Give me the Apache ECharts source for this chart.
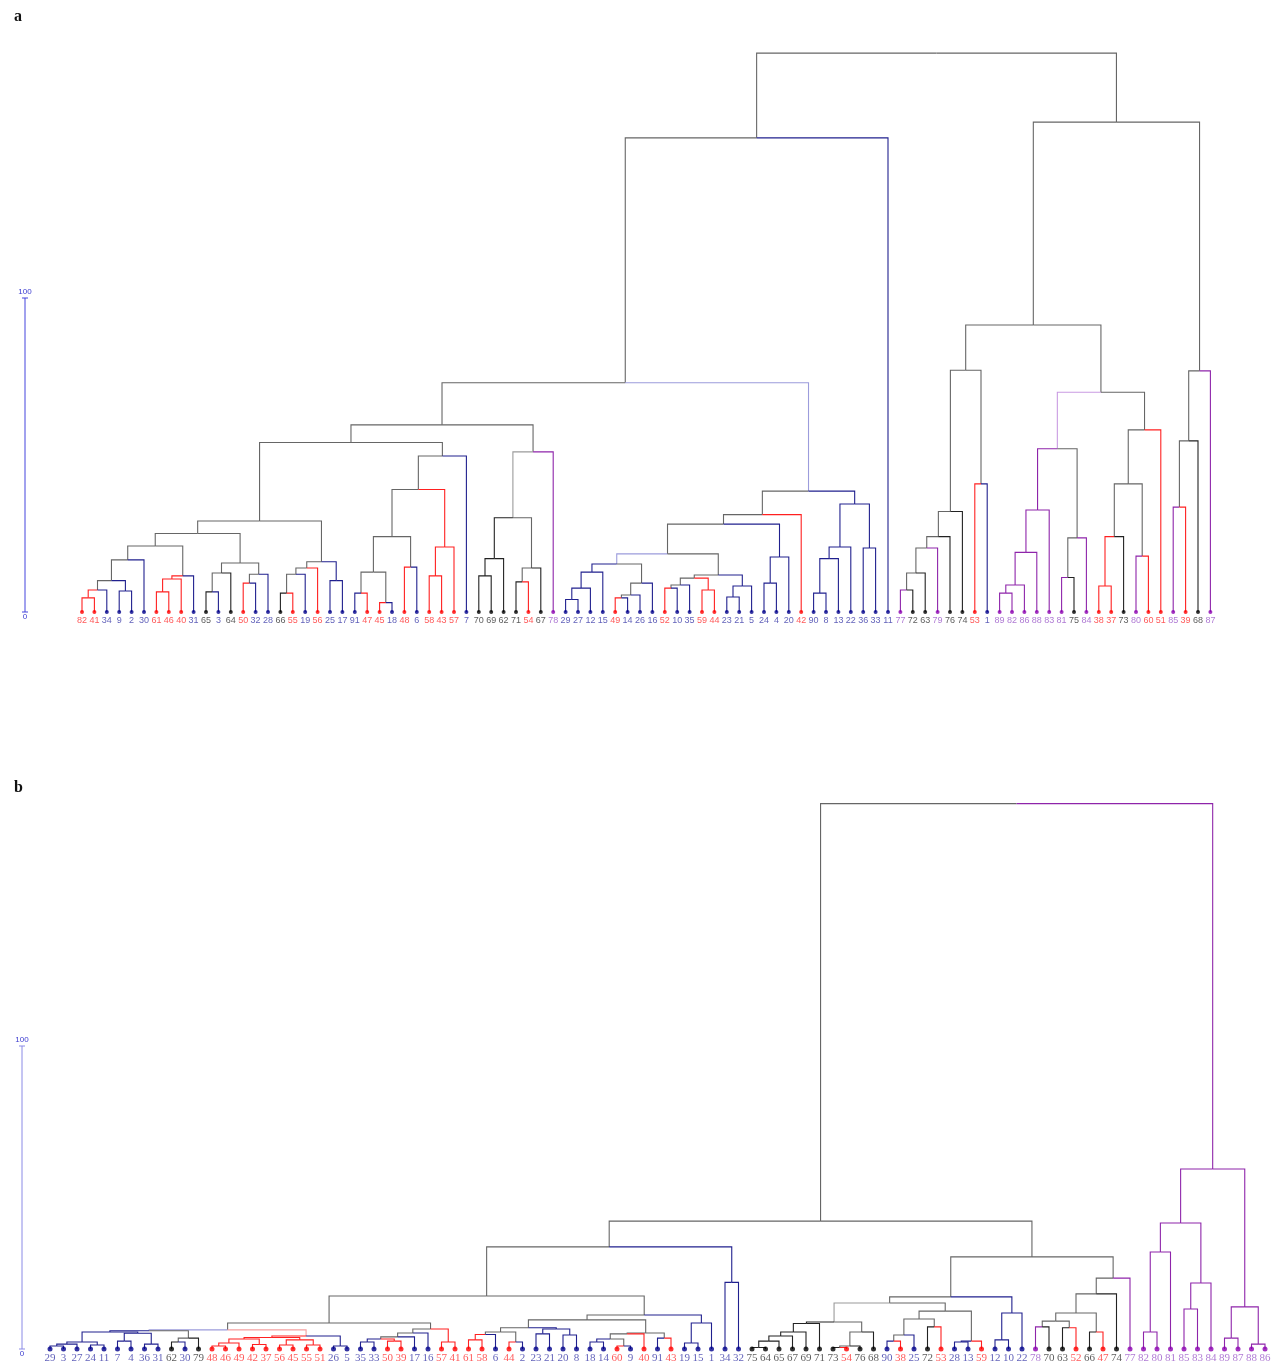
<!DOCTYPE html>
<html>
<head>
<meta charset="utf-8">
<script src="https://cdn.jsdelivr.net/npm/echarts@6/dist/echarts.min.js"></script>
<style>
html,body{margin:0;padding:0;background:#fff;}
#chart{width:1284px;height:1365px;}
</style>
</head>
<body>
<div id="chart"></div>
<script>
// ---------- DATA: panel a ----------
const labelsA = ['82','41','34','9','2','30','61','46','40','31','65','3','64','50','32','28','66','55','19','56','25','17','91','47','45','18','48','6','58','43','57','7','70','69','62','71','54','67','78','29','27','12','15','49','14','26','16','52','10','35','59','44','23','21','5','24','4','20','42','90','8','13','22','36','33','11','77','72','63','79','76','74','53','1','89','82','86','88','83','81','75','84','38','37','73','80','60','51','85','39','68','87'];
const groupsA = ['r','r','b','b','b','b','r','r','r','b','k','b','k','r','b','b','k','r','b','r','b','b','b','r','r','b','r','b','r','r','r','b','k','k','k','k','r','k','p','b','b','b','b','r','b','b','b','r','b','b','r','r','b','b','b','b','b','b','r','b','b','b','b','b','b','b','p','k','k','p','k','k','r','b','p','p','p','p','p','p','k','p','r','r','k','p','r','r','p','r','k','p'];
// merges: [first leaf position, last leaf position, height]
const mergesA = [
 [0,1,4.5],[0,2,7],[3,4,6.7],[0,4,10],[0,5,16.6],[6,7,6.4],[6,8,10.5],[6,9,11.5],[0,9,21],
 [10,11,6.4],[10,12,12.4],[13,14,9.2],[13,15,12],[10,15,15.6],[0,15,25],
 [16,17,6],[16,18,12],[16,19,14],[20,21,10],[16,21,16],[0,21,29],
 [22,23,6],[24,25,3],[22,25,12.7],[26,27,14.3],[22,27,24],[28,29,11.5],[28,30,20.7],[22,30,39],[22,31,49.7],[0,31,54],
 [32,33,11.5],[32,34,17],[35,36,9.6],[35,37,14],[32,37,30],[32,38,51],[0,38,59.6],
 [39,40,4],[39,41,7.6],[39,42,12.7],[43,44,4.5],[43,45,5.4],[43,46,9.2],[39,46,15.3],
 [47,48,7.6],[47,49,8.6],[50,51,7],[47,51,10.8],[52,53,4.8],[52,54,8.3],[47,54,11.8],[39,54,18.5],
 [55,56,9.2],[55,57,17.5],[39,57,28],[39,58,31],
 [59,60,6],[59,61,17],[59,62,20.7],[63,64,20.4],[59,64,34.4],[39,64,38.5],[0,64,73],[0,65,151],
 [66,67,7],[66,68,12.4],[66,69,20.4],[66,70,24],[66,71,32],[72,73,40.8],[66,73,77],
 [74,75,6],[74,76,8.6],[74,77,19],[74,78,32.5],[79,80,11],[79,81,23.6],[74,81,52],
 [82,83,8.3],[82,84,24],[85,86,17.8],[82,86,40.8],[82,87,58],[74,87,70],[66,87,91.4],
 [88,89,33.4],[88,90,54.5],[88,91,76.8],[66,91,156],[0,91,178]
];

// ---------- DATA: panel b ----------
const labelsB = ['29','3','27','24','11','7','4','36','31','62','30','79','48','46','49','42','37','56','45','55','51','26','5','35','33','50','39','17','16','57','41','61','58','6','44','2','23','21','20','8','18','14','60','9','40','91','43','19','15','1','34','32','75','64','65','67','69','71','73','54','76','68','90','38','25','72','53','28','13','59','12','10','22','78','70','63','52','66','47','74','77','82','80','81','85','83','84','89','87','88','86'];
const groupsB = ['b','b','b','b','b','b','b','b','b','k','b','k','r','r','r','r','r','r','r','r','r','b','b','b','b','r','r','b','b','r','r','r','r','b','r','b','b','b','b','b','b','b','r','b','r','b','r','b','b','b','b','b','k','k','k','k','k','k','k','r','k','k','b','r','b','k','r','b','b','r','b','b','b','p','k','k','r','k','r','k','p','p','p','p','p','p','p','p','p','p','p'];
const mergesB = [
 [0,1,1],[0,2,1.6],[3,4,1.3],[0,4,2.3],[5,6,2.6],[7,8,1.6],[5,8,5.2],[0,8,5.6],[9,10,2.3],[9,11,3.6],[0,11,6.0],
 [12,13,1],[12,14,2],[15,16,1.5],[12,16,3.3],[17,18,1.3],[19,20,1.3],[17,20,3],[12,20,3.8],[21,22,1],[12,22,4.3],[0,22,6.3],
 [23,24,2.3],[25,26,2.6],[23,26,3.3],[23,27,4],[23,28,5.3],[29,30,2.3],[23,30,6.6],[0,30,8.6],
 [31,32,3],[31,33,4.8],[34,35,2.3],[31,35,5.6],[36,37,5],[38,39,4.6],[36,39,6.6],[31,39,7],
 [40,41,2.3],[42,43,1],[40,43,3.3],[40,44,5],[45,46,3.6],[40,46,5.3],[31,46,9.6],
 [47,48,2],[47,49,8.6],[31,49,11.2],[0,49,17.5],[50,51,22],[0,51,33.7],
 [52,53,0.5],[52,54,2.6],[52,55,4.3],[52,56,5.6],[52,57,8.4],[58,59,0.5],[58,60,1],[58,61,5.6],[52,61,8.9],
 [62,63,2.6],[62,64,4.6],[65,66,7.3],[62,66,9.9],[67,68,2.3],[67,69,2.6],[62,69,12.5],[52,69,15.2],
 [70,71,3],[70,72,11.9],[52,72,17.2],
 [73,74,7.3],[75,76,7],[73,76,9.2],[77,78,5.6],[73,78,11.9],[73,79,18.2],[73,80,23.4],[52,80,30.4],[0,80,42.2],
 [81,82,5.6],[81,83,32],[84,85,13.2],[84,86,21.8],[81,86,41.6],[87,88,3.6],[89,90,1.6],[87,90,13.9],[81,90,59.4],[0,90,180]
];

const scaleTicks = [0, 100];
const panelNames = ['a', 'b'];

// ---------- styles ----------
const FULL  = {r:'#ff2020', b:'#20208e', k:'#222222', p:'#8e24aa'};
const LIGHT = {r:'#f5a0a0', b:'#9c9cdc', k:'#9a9a9a', p:'#c99be2'};
const MIXED = '#666666';
const DOT   = {r:'#ff0000', b:'#00008b', k:'#000000', p:'#8b00b0'};
const TXT   = {r:'#ff3030', b:'#3838a8', k:'#333333', p:'#9b59c9'};

function buildTree(n, merges, groups) {
  const map = new Map();
  for (let i = 0; i < n; i++) {
    const c = {}; c[groups[i]] = 1;
    map.set(i + '-' + i, {a:i, b:i, h:0, x:i, counts:c, size:1, leaf:true});
  }
  const sorted = merges.slice().sort((p, q) => (p[1]-p[0]) - (q[1]-q[0]));
  for (const [a, b, h] of sorted) {
    let left = null;
    for (let e = b - 1; e >= a; e--) { if (map.has(a + '-' + e)) { left = map.get(a + '-' + e); break; } }
    let right = left ? map.get((left.b + 1) + '-' + b) : null;
    if (!left || !right) { console.warn('bad merge', a, b); continue; }
    const counts = Object.assign({}, left.counts);
    for (const k in right.counts) counts[k] = (counts[k] || 0) + right.counts[k];
    map.set(a + '-' + b, {a, b, h, x:(left.x + right.x) / 2, left, right, counts, size:left.size + right.size});
  }
  return map.get('0-' + (n - 1));
}

function branchColor(node) {
  let best = null, bestN = 0;
  for (const k in node.counts) if (node.counts[k] > bestN) { bestN = node.counts[k]; best = k; }
  const f = bestN / node.size;
  if (f === 1) return FULL[best];
  if (f >= 0.8) return LIGHT[best];
  return MIXED;
}

function collectLines(root) {
  const out = [];
  (function walk(node) {
    if (node.leaf) return;
    for (const ch of [node.left, node.right]) {
      out.push({coords: [[ch.x, ch.h], [ch.x, node.h], [node.x, node.h]], lineStyle: {color: branchColor(ch)}});
      walk(ch);
    }
  })(root);
  return out;
}

const treeA = buildTree(labelsA.length, mergesA, groupsA);
const treeB = buildTree(labelsB.length, mergesB, groupsB);

// pixel layout of each panel
const PA = {x0:82, dx:12.4, y0:612, py:3.14, barX:25, font:'Liberation Sans', fs:9, barColor:'#4444dd'};
const PB = {x0:50, dx:13.5, y0:1349, py:3.03, barX:22, font:'Liberation Serif', fs:11, barColor:'#8a8ae6'};
const YMAX = 180;

function gridOf(P) { return {left:0, width:1284, top:P.y0 - P.py*YMAX, height:P.py*YMAX, containLabel:false}; }
function xAxisOf(P, idx) { return {gridIndex:idx, type:'value', min:-P.x0/P.dx, max:(1284-P.x0)/P.dx, show:false}; }
function yAxisOf(idx) { return {gridIndex:idx, type:'value', min:0, max:YMAX, show:false}; }

function panelSeries(P, idx, tree, labels, groups) {
  const sx = (P.barX - P.x0) / P.dx;
  return [
    {
      type:'lines', coordinateSystem:'cartesian2d', xAxisIndex:idx, yAxisIndex:idx,
      polyline:true, silent:true, z:2,
      lineStyle:{width:1.1, opacity:1},
      data: collectLines(tree)
    },
    {
      type:'scatter', xAxisIndex:idx, yAxisIndex:idx, z:3, silent:true,
      symbol:'circle', symbolSize: idx === 0 ? 4 : 5,
      data: labels.map((l, i) => ({
        value:[i, 0],
        itemStyle:{color:DOT[groups[i]]},
        label:{color:TXT[groups[i]]}
      })),
      label:{
        show:true, position:'bottom', distance: idx === 0 ? 2 : 1,
        fontFamily:P.font, fontSize:P.fs,
        formatter: p => labels[p.dataIndex]
      }
    },
    {
      type:'line', xAxisIndex:idx, yAxisIndex:idx, z:2, silent:true,
      symbol:'rect', symbolSize:[6, 1],
      lineStyle:{color:P.barColor, width:1}, itemStyle:{color:P.barColor},
      data: scaleTicks.map(t => ({
        value:[sx, t],
        label:{show:true, position: t === 0 ? 'bottom' : 'top', distance: t === 0 ? 0 : 2,
               formatter:String(t), color:'#3c3cd0', fontSize:8, fontFamily:'Liberation Sans'}
      }))
    }
  ];
}

const chart = echarts.init(document.getElementById('chart'), null, {renderer:'canvas'});
chart.setOption({
  animation:false,
  backgroundColor:'#ffffff',
  title:[
    {text:panelNames[0], left:9, top:4, textStyle:{fontFamily:'Liberation Serif', fontSize:16, fontWeight:'bold', color:'#111'}},
    {text:panelNames[1], left:9, top:775, textStyle:{fontFamily:'Liberation Serif', fontSize:16, fontWeight:'bold', color:'#111'}}
  ],
  grid:[gridOf(PA), gridOf(PB)],
  xAxis:[xAxisOf(PA, 0), xAxisOf(PB, 1)],
  yAxis:[yAxisOf(0), yAxisOf(1)],
  series:[].concat(panelSeries(PA, 0, treeA, labelsA, groupsA), panelSeries(PB, 1, treeB, labelsB, groupsB))
});
</script>
</body>
</html>
